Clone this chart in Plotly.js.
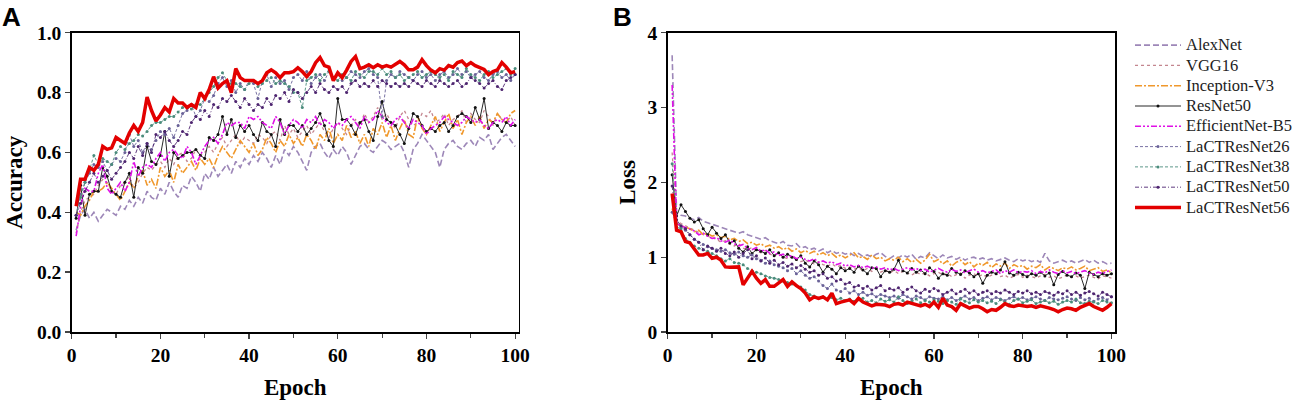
<!DOCTYPE html>
<html>
<head>
<meta charset="utf-8">
<script src="https://cdn.plot.ly/plotly-3.0.1.min.js"></script>
<style>
html, body { margin: 0; padding: 0; background: #fff; }
#plotter { width: 1303px; height: 403px; }
</style>
</head>
<body>
<div id="plotter"></div>
<script>
var epochs = [1,2,3,4,5,6,7,8,9,10,11,12,13,14,15,16,17,18,19,20,
    21,22,23,24,25,26,27,28,29,30,31,32,33,34,35,36,37,38,39,40,
    41,42,43,44,45,46,47,48,49,50,51,52,53,54,55,56,57,58,59,60,
    61,62,63,64,65,66,67,68,69,70,71,72,73,74,75,76,77,78,79,80,
    81,82,83,84,85,86,87,88,89,90,91,92,93,94,95,96,97,98,99,100];

var models = ['AlexNet', 'VGG16', 'Inception-V3', 'ResNet50', 'EfficientNet-B5',
    'LaCTResNet26', 'LaCTResNet38', 'LaCTResNet50', 'LaCTResNet56'];

// accuracy per epoch (panel A)
var accAlexNet = [0.34,0.39,0.41,0.38,0.40,0.37,0.39,0.41,0.40,0.39,
    0.42,0.41,0.44,0.42,0.45,0.43,0.47,0.45,0.44,0.48,
    0.46,0.50,0.47,0.45,0.49,0.48,0.52,0.50,0.47,0.53,
    0.51,0.55,0.52,0.54,0.56,0.53,0.57,0.55,0.58,0.56,
    0.59,0.57,0.60,0.58,0.55,0.59,0.56,0.61,0.59,0.62,
    0.60,0.57,0.54,0.60,0.62,0.63,0.60,0.58,0.61,0.59,
    0.62,0.60,0.56,0.59,0.62,0.63,0.61,0.60,0.62,0.64,
    0.63,0.61,0.62,0.63,0.60,0.55,0.61,0.63,0.66,0.64,
    0.62,0.60,0.55,0.61,0.63,0.64,0.62,0.61,0.63,0.64,
    0.62,0.65,0.64,0.66,0.61,0.63,0.65,0.66,0.64,0.62];
var accVGG16 = [0.33,0.40,0.44,0.45,0.46,0.49,0.51,0.50,0.47,0.46,
    0.49,0.50,0.52,0.48,0.50,0.53,0.55,0.54,0.56,0.57,
    0.55,0.58,0.56,0.59,0.60,0.57,0.58,0.61,0.59,0.60,
    0.62,0.60,0.63,0.65,0.62,0.64,0.66,0.63,0.65,0.64,
    0.63,0.66,0.65,0.63,0.66,0.67,0.64,0.69,0.66,0.68,
    0.65,0.67,0.69,0.66,0.68,0.70,0.67,0.65,0.68,0.70,
    0.68,0.66,0.69,0.71,0.69,0.73,0.70,0.72,0.75,0.71,
    0.73,0.70,0.68,0.72,0.74,0.71,0.69,0.70,0.73,0.72,
    0.74,0.70,0.71,0.73,0.69,0.71,0.72,0.74,0.70,0.73,
    0.71,0.70,0.74,0.72,0.69,0.73,0.71,0.70,0.72,0.69];
var accInception = [0.40,0.39,0.42,0.44,0.47,0.47,0.48,0.50,0.48,0.46,
    0.44,0.47,0.50,0.48,0.52,0.54,0.49,0.51,0.48,0.55,
    0.52,0.54,0.50,0.56,0.53,0.55,0.57,0.54,0.58,0.56,
    0.58,0.55,0.59,0.62,0.60,0.58,0.61,0.64,0.62,0.60,
    0.63,0.59,0.61,0.65,0.63,0.60,0.64,0.62,0.66,0.63,
    0.65,0.62,0.66,0.64,0.61,0.66,0.64,0.68,0.63,0.66,
    0.64,0.69,0.65,0.67,0.63,0.66,0.62,0.68,0.66,0.70,
    0.65,0.69,0.64,0.68,0.71,0.66,0.65,0.72,0.68,0.66,
    0.69,0.72,0.67,0.70,0.73,0.68,0.71,0.66,0.70,0.72,
    0.69,0.72,0.68,0.71,0.70,0.73,0.71,0.70,0.73,0.74];
var accResNet50 = [0.38,0.49,0.39,0.46,0.47,0.47,0.55,0.52,0.47,0.46,
    0.45,0.50,0.53,0.45,0.55,0.53,0.62,0.57,0.56,0.59,
    0.67,0.52,0.60,0.58,0.59,0.60,0.60,0.61,0.59,0.58,
    0.65,0.64,0.66,0.72,0.66,0.71,0.65,0.69,0.67,0.69,
    0.66,0.64,0.70,0.67,0.66,0.62,0.71,0.66,0.69,0.69,
    0.67,0.69,0.66,0.68,0.70,0.73,0.69,0.64,0.62,0.78,
    0.71,0.71,0.69,0.66,0.70,0.71,0.67,0.64,0.72,0.77,
    0.71,0.70,0.69,0.66,0.63,0.68,0.73,0.72,0.69,0.67,
    0.68,0.67,0.69,0.70,0.67,0.69,0.72,0.73,0.72,0.70,
    0.75,0.71,0.78,0.68,0.70,0.69,0.67,0.70,0.69,0.69];
var accEfficientNet = [0.32,0.42,0.48,0.47,0.47,0.53,0.56,0.48,0.46,0.48,
    0.50,0.47,0.50,0.57,0.52,0.55,0.56,0.55,0.58,0.60,
    0.57,0.60,0.61,0.59,0.58,0.62,0.60,0.56,0.59,0.62,
    0.64,0.65,0.63,0.66,0.70,0.69,0.70,0.70,0.68,0.72,
    0.71,0.72,0.70,0.69,0.68,0.72,0.70,0.66,0.69,0.71,
    0.70,0.68,0.71,0.70,0.72,0.69,0.71,0.70,0.68,0.70,
    0.69,0.71,0.72,0.70,0.68,0.72,0.70,0.71,0.74,0.72,
    0.70,0.69,0.71,0.72,0.70,0.68,0.71,0.70,0.69,0.66,
    0.68,0.69,0.70,0.72,0.71,0.70,0.69,0.70,0.72,0.71,
    0.70,0.71,0.69,0.68,0.70,0.71,0.70,0.72,0.69,0.71];
var accLaCT26 = [0.39,0.46,0.50,0.53,0.56,0.55,0.57,0.54,0.56,0.58,
    0.57,0.60,0.66,0.62,0.64,0.60,0.63,0.61,0.64,0.67,
    0.66,0.68,0.65,0.69,0.73,0.74,0.76,0.72,0.74,0.78,
    0.77,0.79,0.83,0.85,0.82,0.84,0.80,0.83,0.81,0.84,
    0.83,0.78,0.84,0.86,0.82,0.85,0.83,0.84,0.81,0.85,
    0.86,0.84,0.87,0.83,0.85,0.86,0.84,0.87,0.85,0.86,
    0.84,0.85,0.87,0.86,0.85,0.87,0.88,0.86,0.85,0.72,
    0.84,0.86,0.85,0.87,0.86,0.85,0.84,0.86,0.87,0.85,
    0.86,0.84,0.86,0.87,0.85,0.86,0.88,0.86,0.87,0.85,
    0.86,0.87,0.85,0.84,0.86,0.87,0.85,0.86,0.84,0.86];
var accLaCT38 = [0.39,0.45,0.50,0.54,0.59,0.56,0.58,0.57,0.56,0.60,
    0.62,0.61,0.63,0.64,0.66,0.655,0.67,0.69,0.70,0.70,
    0.71,0.72,0.72,0.735,0.75,0.75,0.745,0.76,0.76,0.78,
    0.80,0.82,0.85,0.866,0.84,0.83,0.83,0.82,0.81,0.83,
    0.84,0.82,0.83,0.84,0.85,0.83,0.84,0.83,0.82,0.80,
    0.80,0.75,0.84,0.85,0.86,0.84,0.86,0.87,0.85,0.84,
    0.86,0.85,0.84,0.87,0.86,0.85,0.87,0.87,0.86,0.88,
    0.86,0.87,0.85,0.86,0.84,0.85,0.86,0.87,0.85,0.86,
    0.87,0.86,0.85,0.86,0.84,0.87,0.86,0.85,0.88,0.86,
    0.85,0.84,0.86,0.87,0.85,0.86,0.87,0.88,0.86,0.88];
var accLaCT50 = [0.39,0.43,0.47,0.50,0.53,0.50,0.52,0.54,0.51,0.53,
    0.55,0.57,0.60,0.58,0.62,0.59,0.63,0.60,0.66,0.65,
    0.67,0.64,0.62,0.64,0.67,0.66,0.70,0.72,0.71,0.74,
    0.72,0.76,0.75,0.78,0.77,0.79,0.77,0.75,0.78,0.76,
    0.74,0.76,0.75,0.78,0.76,0.79,0.78,0.80,0.77,0.81,
    0.80,0.78,0.80,0.82,0.80,0.83,0.81,0.80,0.82,0.81,
    0.82,0.80,0.83,0.84,0.82,0.83,0.82,0.84,0.82,0.84,
    0.83,0.82,0.83,0.82,0.83,0.82,0.84,0.83,0.82,0.84,
    0.83,0.82,0.84,0.83,0.82,0.83,0.84,0.82,0.83,0.85,
    0.84,0.83,0.815,0.83,0.84,0.82,0.81,0.84,0.85,0.86];
var accLaCT56 = [0.42,0.51,0.51,0.55,0.54,0.56,0.62,0.61,0.615,0.65,
    0.64,0.63,0.665,0.69,0.67,0.70,0.785,0.74,0.705,0.725,
    0.75,0.735,0.78,0.765,0.765,0.75,0.76,0.75,0.80,0.78,
    0.81,0.853,0.815,0.83,0.84,0.80,0.88,0.85,0.84,0.84,
    0.84,0.83,0.84,0.866,0.876,0.866,0.85,0.866,0.866,0.87,
    0.883,0.87,0.853,0.87,0.90,0.917,0.89,0.885,0.84,0.866,
    0.85,0.875,0.904,0.92,0.88,0.885,0.893,0.883,0.893,0.885,
    0.89,0.885,0.895,0.904,0.893,0.876,0.876,0.885,0.91,0.89,
    0.875,0.866,0.88,0.875,0.89,0.885,0.90,0.905,0.89,0.90,
    0.89,0.885,0.877,0.86,0.87,0.876,0.90,0.885,0.866,0.87];

// loss per epoch (panel B)
var lossAlexNet = [3.70,1.60,1.56,1.55,1.52,1.50,1.53,1.48,1.46,1.44,
    1.42,1.40,1.38,1.36,1.34,1.32,1.34,1.30,1.28,1.26,
    1.24,1.26,1.22,1.20,1.18,1.21,1.16,1.15,1.18,1.12,
    1.14,1.10,1.12,1.08,1.11,1.06,1.09,1.05,1.07,1.04,
    1.06,1.02,1.05,1.01,1.03,1.00,1.04,1.06,1.01,0.98,
    1.02,0.99,1.03,1.00,1.04,0.97,1.01,0.99,1.06,1.02,
    0.98,1.03,0.99,1.01,0.97,1.00,0.96,0.99,1.00,0.97,
    0.99,0.96,0.98,0.95,0.97,0.99,0.96,0.94,0.98,0.95,
    0.97,0.94,0.96,0.93,1.05,0.95,0.92,0.94,0.96,0.93,
    0.95,0.92,0.94,0.97,0.93,0.96,0.92,0.94,0.91,0.92];
var lossVGG16 = [2.40,1.50,1.45,1.42,1.38,1.36,1.33,1.30,1.28,1.26,
    1.24,1.20,1.22,1.17,1.15,1.18,1.12,1.10,1.13,1.08,
    1.06,1.09,1.04,1.02,1.05,1.00,0.98,1.01,0.96,0.94,
    0.96,0.93,0.91,0.94,0.90,0.88,0.91,0.87,0.89,0.85,
    0.87,0.84,0.86,0.82,0.85,0.81,0.84,0.80,0.83,0.79,
    0.82,0.78,0.81,0.79,0.76,0.80,0.77,0.79,0.75,0.78,
    0.80,0.76,0.78,0.74,0.77,0.79,0.72,0.76,0.78,0.74,
    0.77,0.73,0.76,0.78,0.74,0.76,0.72,0.75,0.77,0.73,
    0.76,0.74,0.72,0.75,0.77,0.73,0.75,0.71,0.74,0.76,
    0.73,0.75,0.72,0.74,0.76,0.73,0.71,0.75,0.74,0.72];
var lossInception = [1.65,1.45,1.42,1.40,1.38,1.34,1.36,1.30,1.32,1.28,
    1.30,1.26,1.28,1.23,1.25,1.21,1.23,1.18,1.20,1.16,
    1.18,1.14,1.16,1.12,1.14,1.10,1.13,1.08,1.11,1.06,
    1.09,1.05,1.08,1.03,1.06,1.02,1.05,1.00,1.03,0.99,
    1.02,1.06,0.99,1.01,0.97,1.03,0.98,1.00,0.95,0.98,
    0.96,1.00,0.94,0.98,0.93,0.97,0.92,0.96,1.04,0.94,
    0.97,0.91,0.95,0.88,0.93,0.96,0.90,0.94,0.87,0.92,
    0.89,0.93,0.86,0.91,0.88,0.92,0.85,0.90,0.87,0.89,
    0.84,0.88,0.86,0.90,0.83,0.87,0.85,0.82,0.86,0.84,
    0.87,0.83,0.85,0.88,0.82,0.84,0.86,0.81,0.83,0.79];
var lossResNet50 = [2.10,1.55,1.70,1.61,1.52,1.47,1.50,1.38,1.30,1.40,
    1.32,1.25,1.30,1.19,1.22,1.12,1.07,1.14,1.05,1.10,
    1.08,1.05,1.10,1.02,1.06,1.00,1.04,1.00,0.97,1.02,
    0.92,0.87,0.95,0.90,0.80,0.88,0.84,0.78,0.86,0.82,
    0.85,0.80,0.88,0.83,0.78,0.86,0.85,0.74,0.82,0.80,
    0.84,0.96,0.82,0.79,0.85,0.80,0.83,0.78,0.86,0.81,
    0.72,0.78,0.76,0.85,0.80,0.77,0.82,0.79,0.74,0.78,
    0.65,0.76,0.80,0.78,0.83,0.94,0.79,0.76,0.80,0.77,
    0.74,0.78,0.76,0.80,0.75,0.79,0.63,0.77,0.81,0.76,
    0.74,0.79,0.76,0.58,0.80,0.77,0.74,0.78,0.76,0.78];
var lossEfficientNet = [3.30,1.45,1.42,1.40,1.38,1.35,1.30,1.32,1.28,1.25,
    1.26,1.22,1.20,1.23,1.18,1.15,1.17,1.12,1.10,1.13,
    1.08,1.10,1.05,1.07,1.02,1.04,1.00,1.02,0.98,1.00,
    0.97,0.95,0.98,0.93,0.95,0.92,0.94,0.90,0.92,0.88,
    0.90,0.87,0.89,0.86,0.88,0.85,0.87,0.84,0.86,0.83,
    0.85,0.82,0.84,0.86,0.83,0.85,0.82,0.84,0.80,0.83,
    0.85,0.82,0.80,0.84,0.81,0.83,0.79,0.82,0.84,0.80,
    0.82,0.79,0.81,0.83,0.78,0.82,0.80,0.83,0.79,0.81,
    0.80,0.82,0.78,0.81,0.79,0.83,0.80,0.78,0.82,0.79,
    0.81,0.78,0.80,0.82,0.79,0.77,0.80,0.78,0.81,0.83];
var lossLaCT26 = [1.60,1.45,1.40,1.36,1.30,1.24,1.20,1.17,1.14,1.12,
    1.10,1.08,1.10,1.06,1.04,1.07,1.02,1.00,1.03,0.98,
    0.96,0.92,0.95,0.90,0.88,0.86,0.82,0.85,0.78,0.82,
    0.76,0.72,0.74,0.68,0.62,0.58,0.64,0.56,0.54,0.58,
    0.52,0.55,0.50,0.53,0.49,0.51,0.47,0.50,0.48,0.46,
    0.48,0.45,0.50,0.47,0.44,0.48,0.46,0.43,0.47,0.45,
    0.44,0.47,0.43,0.46,0.42,0.45,0.48,0.44,0.46,0.42,
    0.45,0.47,0.43,0.46,0.44,0.42,0.45,0.47,0.44,0.46,
    0.43,0.45,0.47,0.44,0.42,0.46,0.44,0.43,0.45,0.47,
    0.44,0.42,0.46,0.43,0.45,0.41,0.44,0.46,0.43,0.47];
var lossLaCT38 = [2.25,1.40,1.38,1.25,1.20,1.15,1.12,1.10,1.08,1.05,
    1.02,0.98,0.95,0.98,0.93,0.92,0.90,0.85,0.82,0.80,
    0.78,0.75,0.73,0.72,0.70,0.68,0.66,0.64,0.62,0.60,
    0.56,0.50,0.48,0.45,0.47,0.44,0.46,0.43,0.45,0.42,
    0.44,0.41,0.43,0.45,0.40,0.42,0.39,0.44,0.41,0.43,
    0.40,0.47,0.42,0.38,0.41,0.44,0.39,0.42,0.40,0.43,
    0.41,0.38,0.42,0.40,0.37,0.44,0.41,0.39,0.43,0.40,
    0.42,0.39,0.41,0.38,0.43,0.40,0.37,0.42,0.44,0.39,
    0.41,0.43,0.38,0.40,0.42,0.39,0.41,0.37,0.40,0.42,
    0.40,0.44,0.39,0.38,0.41,0.40,0.38,0.42,0.40,0.39];
var lossLaCT50 = [1.95,1.50,1.42,1.38,1.30,1.24,1.20,1.10,1.15,1.12,
    1.08,1.12,1.05,1.02,1.07,1.00,1.05,1.10,0.98,1.02,
    0.95,0.99,0.92,0.96,0.90,0.93,0.88,0.91,0.86,0.89,
    0.84,0.80,0.82,0.76,0.78,0.72,0.74,0.68,0.70,0.64,
    0.66,0.60,0.62,0.58,0.61,0.56,0.59,0.62,0.55,0.58,
    0.56,0.59,0.53,0.57,0.60,0.55,0.52,0.57,0.54,0.58,
    0.55,0.50,0.53,0.56,0.51,0.54,0.57,0.52,0.55,0.50,
    0.53,0.55,0.51,0.54,0.52,0.56,0.53,0.50,0.54,0.52,
    0.55,0.51,0.53,0.50,0.54,0.52,0.49,0.53,0.51,0.55,
    0.50,0.53,0.49,0.52,0.54,0.51,0.48,0.53,0.50,0.47];
var lossLaCT56 = [1.85,1.36,1.34,1.21,1.19,1.10,1.03,1.03,1.05,0.985,
    1.00,0.96,0.87,0.865,0.87,0.87,0.63,0.72,0.81,0.72,
    0.65,0.70,0.61,0.61,0.65,0.70,0.61,0.67,0.62,0.58,
    0.52,0.43,0.47,0.45,0.47,0.43,0.52,0.38,0.40,0.42,
    0.43,0.38,0.45,0.40,0.38,0.35,0.37,0.37,0.36,0.34,
    0.37,0.38,0.36,0.40,0.38,0.36,0.35,0.37,0.34,0.40,
    0.33,0.45,0.36,0.34,0.29,0.38,0.35,0.32,0.34,0.34,
    0.31,0.27,0.30,0.29,0.33,0.38,0.35,0.34,0.36,0.35,
    0.34,0.35,0.33,0.35,0.34,0.32,0.30,0.27,0.30,0.32,
    0.31,0.29,0.33,0.35,0.38,0.34,0.31,0.29,0.33,0.38];

var accData = [accAlexNet, accVGG16, accInception, accResNet50, accEfficientNet,
    accLaCT26, accLaCT38, accLaCT50, accLaCT56];
var lossData = [lossAlexNet, lossVGG16, lossInception, lossResNet50, lossEfficientNet,
    lossLaCT26, lossLaCT38, lossLaCT50, lossLaCT56];

// line style per model
var styles = [
    {color: '#9d87b8', width: 1.6, dash: '6px,3px', marker: 0},
    {color: '#c4868f', width: 1.3, dash: 'dot', marker: 0},
    {color: '#f0982c', width: 1.6, dash: '7px,2px,2px,2px', marker: 0},
    {color: '#111111', width: 0.9, dash: 'solid', marker: 3},
    {color: '#e010e6', width: 1.6, dash: '6px,2px,2px,2px,2px,2px', marker: 0},
    {color: '#6a6298', width: 0.9, dash: '3px,2px', marker: 3},
    {color: '#4b8c7c', width: 0.9, dash: '3px,2px', marker: 3},
    {color: '#4e2570', width: 0.9, dash: '4px,2px,1px,2px', marker: 3},
    {color: '#e30000', width: 3.5, dash: 'solid', marker: 0}
];

var plots = [];
for (var i in models) {
    var s = styles[i];
    var base = {
        x: epochs,
        type: 'scatter',
        mode: s.marker ? 'lines+markers' : 'lines',
        // legend text drawn a bit larger than the legend row height
        name: '<span style="font-size:16.5px">' + models[i] + '</span>',
        legendgroup: models[i],
        line: {color: s.color, width: s.width, dash: s.dash},
        marker: {size: s.marker, color: s.color}
    };
    plots.push(Object.assign({}, base, {y: accData[i], xaxis: 'x', yaxis: 'y', showlegend: true}));
    plots.push(Object.assign({}, base, {y: lossData[i], xaxis: 'x2', yaxis: 'y2', showlegend: false}));
}

var serif = 'Liberation Serif';

function boldFont(size) {
    return {family: serif, size: size, color: '#000', weight: 'bold'};
}

function xAxis(domain, anchor) {
    return {
        domain: domain, anchor: anchor,
        range: [0, 100.8],
        tickvals: [0, 20, 40, 60, 80, 100],
        ticks: 'outside', ticklen: 5, tickwidth: 1.3,
        minor: {tickvals: [10, 30, 50, 70, 90], ticks: 'outside', ticklen: 4, tickwidth: 1.2},
        showline: true, mirror: true, linecolor: '#000', linewidth: 1.5,
        showgrid: false, zeroline: false,
        tickfont: boldFont(19.5),
        title: {text: 'Epoch', font: boldFont(23), standoff: 14}
    };
}

function yAxis(domain, anchor, range, dtick, fmt, label, standoff) {
    return {
        domain: domain, anchor: anchor,
        range: range, dtick: dtick, tick0: 0, tickformat: fmt,
        ticks: 'outside', ticklen: 5, tickwidth: 1.3,
        showline: true, mirror: true, linecolor: '#000', linewidth: 1.5,
        showgrid: false, zeroline: false,
        tickfont: boldFont(19.5),
        title: {text: label, font: boldFont(23), standoff: standoff}
    };
}

var yDom = [1 - 332 / 403, 1 - 32.7 / 403];
var layout = {
    width: 1303,
    height: 403,
    margin: {l: 0, r: 0, t: 0, b: 0},
    paper_bgcolor: '#fff',
    plot_bgcolor: '#fff',
    font: boldFont(19),
    showlegend: true,
    xaxis: xAxis([71.7 / 1303, 518.7 / 1303], 'y'),
    yaxis: yAxis(yDom, 'x', [0, 1], 0.2, '.1f', 'Accuracy', 8),
    xaxis2: xAxis([667.7 / 1303, 1115 / 1303], 'y2'),
    yaxis2: yAxis(yDom, 'x2', [0, 4], 1, 'd', 'Loss', 5),
    legend: {
        x: 1130 / 1303, y: 1 - 30 / 403,
        xanchor: 'left', yanchor: 'top',
        font: {family: serif, size: 13.3, color: '#222', weight: 'normal'},
        bgcolor: 'rgba(0,0,0,0)',
        tracegroupgap: 0,
        itemwidth: 46
    },
    annotations: [
        {text: 'A', x: 0, y: 1, xref: 'paper', yref: 'paper',
            xanchor: 'left', yanchor: 'top', showarrow: false,
            font: {family: 'Liberation Sans', size: 26, color: '#000', weight: 'bold'}},
        {text: 'B', x: 611 / 1303, y: 1, xref: 'paper', yref: 'paper',
            xanchor: 'left', yanchor: 'top', showarrow: false,
            font: {family: 'Liberation Sans', size: 26, color: '#000', weight: 'bold'}}
    ]
};

Plotly.newPlot('plotter', plots, layout, {staticPlot: true});
</script>
</body>
</html>
